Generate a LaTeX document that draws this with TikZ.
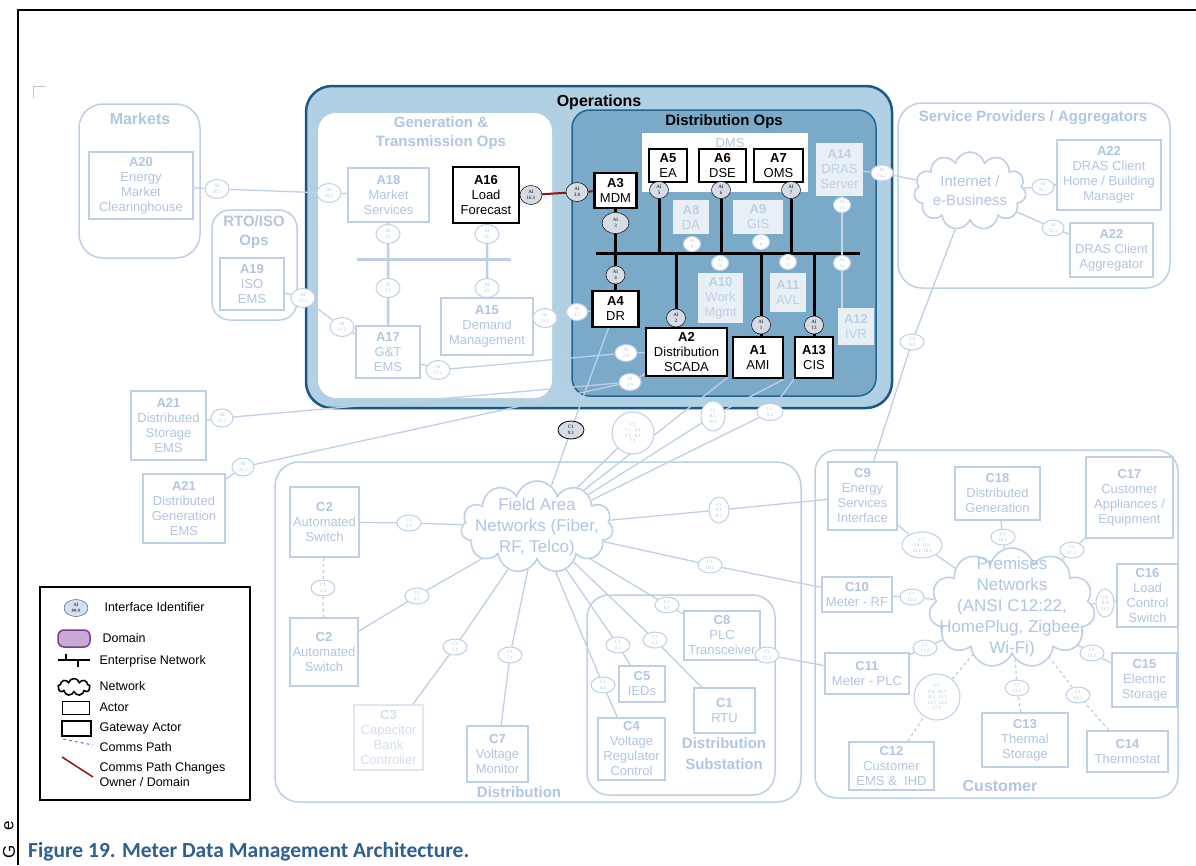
\documentclass[tikz,border=0pt]{standalone}
\usepackage{fontspec}
\setmainfont{Liberation Sans}
\newfontfamily\tnr{Liberation Serif}
\newfontfamily\calib{Carlito}
\usetikzlibrary{shapes.geometric,shapes.symbols}
\definecolor{fade}{RGB}{190,207,232}
\definecolor{fadeT}{RGB}{178,197,228}
\definecolor{opsL}{RGB}{178,208,227}
\definecolor{opsD}{RGB}{27,88,135}
\definecolor{distM}{RGB}{122,170,200}
\definecolor{distD}{RGB}{35,100,145}
\definecolor{aigray}{RGB}{214,220,230}
\definecolor{redl}{RGB}{150,20,20}
\definecolor{capblue}{RGB}{47,94,145}
\definecolor{purp}{RGB}{120,60,140}
\definecolor{purpL}{RGB}{200,170,212}
\definecolor{wfill}{RGB}{232,240,246}
\definecolor{wtext}{RGB}{188,208,230}
\definecolor{wline}{RGB}{200,214,230}
\definecolor{lgfill}{RGB}{212,224,240}
\definecolor{lgdraw}{RGB}{80,90,110}
\definecolor{lgdash}{RGB}{120,135,200}
\newcommand\fz[2]{\fontsize{#1}{#2}\selectfont}
\pgfdeclarelayer{bg}
\pgfdeclarelayer{lns}
\pgfsetlayers{bg,lns,main}
\tikzset{
 actbase/.style={rectangle, align=center, inner sep=0pt, font={\fz{13}{15}}},
 actF/.style={actbase, draw=fade, line width=1.8pt, fill=white, text=fadeT},
 actG/.style={actbase, draw=black, line width=2.2pt, fill=white, text=black},
 actB/.style={actbase, draw=black, line width=1.2pt, fill=white, text=black},
 actW/.style={actbase, fill=wfill, text=wtext},
 ai/.style={ellipse, draw=black, line width=.5pt, fill=aigray, minimum width=22pt, minimum height=19pt, inner sep=0pt, align=center, font={\tnr\fz{5}{5.5}}},
 aif/.style={ai, draw=fade, fill=white, text=fadeT, line width=1pt, minimum width=24pt},
 aic/.style={aif, minimum width=24pt, minimum height=16pt},
 ln/.style={draw=fade, line width=1.3pt},
 dom/.style={draw=fade, line width=1.5pt, rounded corners=24pt},
 ttl/.style={font={\bfseries\fz{15}{19}}, text=fadeT, align=center},
 vb/.style={draw=black, line width=3pt},
 cloudF/.style={cloud, cloud puffs=11, aspect=1.6, draw=fade, line width=1.6pt, fill=white, inner sep=0pt},
 lg/.style={anchor=west, font={\fz{12.5}{15}}, align=left},
}
\begin{document}
\begin{tikzpicture}[x=1pt,y=-1pt]
\useasboundingbox (0,0) rectangle (1196,865);

% ---------- background and domains ----------
\begin{pgfonlayer}{bg}
\fill[white] (0,0) rectangle (1196,865);
\draw[dom] (79,104) rectangle (200,258);
\draw[dom, rounded corners=18pt] (212,210) rectangle (297,320);
\draw[fill=opsL, draw=opsD, line width=2.5pt, rounded corners=26pt] (306,86) rectangle (892,408);
\fill[white, rounded corners=18pt] (318,113) rectangle (552,398);
\draw[fill=distM, draw=distD, line width=1.5pt, rounded corners=18pt] (572,110) rectangle (876,396);
\fill[white] (642,133) rectangle (808,192);
\draw[dom] (898,103) rectangle (1170,288);
\draw[dom] (275,462) rectangle (801,802);
\draw[dom, rounded corners=22pt] (587,595) rectangle (775,795);
\draw[dom, rounded corners=22pt] (815,450) rectangle (1178,798);
\end{pgfonlayer}

% page frame and margin remnants
\draw[black, line width=1.2pt] (18,865) -- (18,10) -- (1196,10);
\draw[gray!45, line width=1pt] (33,98) -- (33,86) -- (46,86);
\node[rotate=90, font={\fz{17}{17}}, inner sep=0pt] (mge) at (9,826) {e};
\node[rotate=90, font={\fz{17}{17}}, inner sep=0pt] (mgg) at (9,852) {G};

% ---------- titles ----------
\node[ttl, font={\bfseries\fz{16}{19}}] (tmk) at (140,119) {Markets};
\node[ttl] (trto) at (254,232) {RTO/ISO\\Ops};
\node[ttl, text=black, font={\bfseries\fz{16}{19}}] (tops) at (599,102) {Operations};
\node[ttl] (tgt) at (441,133) {Generation \&\\Transmission Ops};
\node[ttl, text=black] (tdo) at (724,122) {Distribution Ops};
\node[font={\fz{13}{15}}, text=fadeT] (tdms) at (730,143) {DMS};
\node[ttl] (tsp) at (1033,118) {Service Providers / Aggregators};
\node[ttl] (tdist) at (519,792) {Distribution};
\node[ttl, font={\bfseries\fz{15}{21}}] (tsub) at (724,754) {Distribution\\Substation};
\node[ttl, font={\bfseries\fz{16}{19}}] (tcus) at (1000,786) {Customer};

% ---------- actors: operations ----------
\node[actF, minimum width=104, minimum height=67] (a20) at (141,185.5) {\textbf{A20}\\Energy\\Market\\Clearinghouse};
\node[actF, minimum width=64, minimum height=52] (a19) at (252,284) {\textbf{A19}\\ISO\\EMS};
\node[actF, minimum width=81, minimum height=54] (a18) at (388.5,195) {\textbf{A18}\\Market\\Services};
\node[actG, minimum width=66, minimum height=56] (a16) at (486,195) {\textbf{A16}\\Load\\Forecast};
\node[actF, minimum width=64, minimum height=52] (a17) at (388,352) {\textbf{A17}\\G\&T\\EMS};
\node[actF, minimum width=92, minimum height=57] (a15) at (487,326.5) {\textbf{A15}\\Demand\\Management};

\node[actG, minimum width=42, minimum height=35] (a3) at (615.5,190.5) {\textbf{A3}\\MDM};
\node[actG, minimum width=46, minimum height=36] (a4) at (615.5,309) {\textbf{A4}\\DR};
\node[actB, minimum width=38, minimum height=33] (a5) at (668,165.5) {\textbf{A5}\\EA};
\node[actB, minimum width=47, minimum height=33] (a6) at (722.5,165.5) {\textbf{A6}\\DSE};
\node[actB, minimum width=49, minimum height=33] (a7) at (778.5,165.5) {\textbf{A7}\\OMS};
\node[actG, minimum width=81, minimum height=48] (a2) at (686.5,352) {\textbf{A2}\\Distribution\\SCADA};
\node[actG, minimum width=50, minimum height=41] (a1) at (758,357.5) {\textbf{A1}\\AMI};
\node[actG, minimum width=38, minimum height=41] (a13) at (814,357.5) {\textbf{A13}\\CIS};
\node[actW, minimum width=36, minimum height=34] (a8) at (691,217) {\textbf{A8}\\DA};
\node[actW, minimum width=50, minimum height=34] (a9) at (758,217) {\textbf{A9}\\GIS};
\node[actW, minimum width=45, minimum height=50] (a10) at (720.5,298) {\textbf{A10}\\Work\\Mgmt};
\node[actW, minimum width=36, minimum height=39] (a11) at (788,292.5) {\textbf{A11}\\AVL};
\node[actW, minimum width=36, minimum height=37] (a12) at (856,326.5) {\textbf{A12}\\IVR};
\node[actW, minimum width=47, minimum height=53] (a14) at (839.5,169.5) {\textbf{A14}\\DRAS\\Server};

% service providers
\node[cloudF, minimum width=112, minimum height=78] (inet) at (970,191) {};
\node[font={\fz{15}{19}}, text=fadeT, align=center] (inetT) at (970,191) {Internet /\\e-Business};
\node[actF, minimum width=104, minimum height=70] (a22a) at (1109,175) {\textbf{A22}\\DRAS Client\\Home / Building\\Manager};
\node[actF, minimum width=83, minimum height=54] (a22b) at (1111.5,250) {\textbf{A22}\\DRAS Client\\Aggregator};

% A21
\node[actF, minimum width=75, minimum height=69] (a21s) at (168.5,425.5) {\textbf{A21}\\Distributed\\Storage\\EMS};
\node[actF, minimum width=82, minimum height=69] (a21g) at (184,508.5) {\textbf{A21}\\Distributed\\Generation\\EMS};

% ---------- field ----------
\node[cloudF, minimum width=152, minimum height=92] (fan) at (537,527) {};
\node[font={\fz{17}{21}}, text=fadeT, align=center] (fanT) at (537,527) {Field Area\\Networks (Fiber,\\RF, Telco)};
\node[actF, minimum width=69, minimum height=70] (c2a) at (324.5,522) {\textbf{C2}\\Automated\\Switch};
\node[actF, minimum width=68, minimum height=68] (c2b) at (324,652) {\textbf{C2}\\Automated\\Switch};
\node[actF, draw=fade!50, text=fadeT!55, minimum width=69, minimum height=65] (c3) at (388.5,737.5) {\textbf{C3}\\Capacitor\\Bank\\Controller};
\node[actF, minimum width=61, minimum height=56] (c7) at (497.5,754) {\textbf{C7}\\Voltage\\Monitor};
\node[actF, minimum width=67, minimum height=62] (c4) at (631.5,749) {\textbf{C4}\\Voltage\\Regulator\\Control};
\node[actF, minimum width=46, minimum height=36] (c5) at (642,684) {\textbf{C5}\\IEDs};
\node[actF, minimum width=61, minimum height=45] (c1) at (724.5,710.5) {\textbf{C1}\\RTU};
\node[actF, minimum width=76, minimum height=49] (c8) at (722,635.5) {\textbf{C8}\\PLC\\Transceiver};

% ---------- customer ----------
\node[cloudF, minimum width=166, minimum height=120] (pn) at (1012,608) {};
\node[font={\fz{17}{21}}, text=fadeT, align=center] (pnT) at (1012,607) {Premises\\Networks\\(ANSI C12:22,\\HomePlug, Zigbee,\\Wi-Fi)};
\node[actF, minimum width=69, minimum height=68] (c9) at (862.5,496) {\textbf{C9}\\Energy\\Services\\Interface};
\node[actF, minimum width=85, minimum height=53] (c18) at (997.5,493.5) {\textbf{C18}\\Distributed\\Generation};
\node[actF, minimum width=87, minimum height=81] (c17) at (1129.5,497.5) {\textbf{C17}\\Customer\\Appliances /\\Equipment};
\node[actF, minimum width=61, minimum height=63] (c16) at (1147.5,595.5) {\textbf{C16}\\Load\\Control\\Switch};
\node[actF, minimum width=70, minimum height=35] (c10) at (857,594.5) {\textbf{C10}\\Meter - RF};
\node[actF, minimum width=84, minimum height=41] (c11) at (867,673.5) {\textbf{C11}\\Meter - PLC};
\node[actF, minimum width=65, minimum height=54] (c15) at (1144.5,680) {\textbf{C15}\\Electric\\Storage};
\node[actF, minimum width=85, minimum height=48] (c12) at (891.5,766) {\textbf{C12}\\Customer\\EMS \&\ \ IHD};
\node[actF, minimum width=86, minimum height=54] (c13) at (1025,740) {\textbf{C13}\\Thermal\\Storage};
\node[actF, minimum width=81, minimum height=41] (c14) at (1127.5,751.5) {\textbf{C14}\\Thermostat};

% ---------- interface identifiers ----------
\node[aif] (ai201) at (217,189) {AI\\20.1};
\node[aif] (ai182) at (329,193) {AI\\18.2};
\node[aif] (ai191) at (303,298) {AI\\19.1};
\node[aif] (ai172) at (342,327) {AI\\17.2};
\node[aif] (ai18) at (388,234) {AI\\18};
\node[aif] (ai16) at (487,234) {AI\\16};
\node[aif] (ai17) at (388,288) {AI\\17};
\node[aif] (ai15) at (487,288) {AI\\15};
\node[aif] (ai171) at (438,370) {AI\\17.1};
\node[aif] (ai151) at (545,318) {AI\\15.1};
\node[ai] (ai161) at (531,195) {AI\\16.1};
\node[ai] (ai38) at (577,192) {AI\\3.8};
\node[ai, minimum width=27, minimum height=21] (ai3) at (615.5,223) {AI\\3};
\node[ai, minimum width=19, minimum height=18] (ai4) at (615.5,275) {AI\\4};
\node[ai, minimum width=19, minimum height=17] (ai5) at (659,190) {AI\\5};
\node[ai, minimum width=19, minimum height=17] (ai6) at (721,190) {AI\\6};
\node[ai, minimum width=19, minimum height=17] (ai7) at (791,190) {AI\\7};
\node[ai, minimum width=19, minimum height=18] (ai2) at (676,318) {AI\\2};
\node[ai, minimum width=19, minimum height=18] (ai1) at (761,325) {AI\\1};
\node[ai, minimum width=19, minimum height=18] (ai13) at (814,325) {AI\\13};
\node[aif, minimum width=21, minimum height=17] (ai47) at (577,312) {AI\\4.7};
\node[aif, minimum width=22, minimum height=17] (ai28) at (626,353) {AI\\2.8};
\node[aif, minimum width=22, minimum height=17] (ai29) at (630,382) {AI\\2.9};
\node[aif, draw=wline, text=wtext, minimum width=17, minimum height=15] (ai8) at (692,244) {AI\\8};
\node[aif, draw=wline, text=wtext, minimum width=17, minimum height=15] (ai9) at (761,242) {AI\\9};
\node[aif, draw=wline, text=wtext, minimum width=17, minimum height=15] (ai10) at (720,263) {AI\\10};
\node[aif, draw=wline, text=wtext, minimum width=17, minimum height=15] (ai11) at (788,262) {AI\\11};
\node[aif, draw=wline, text=wtext, minimum width=17, minimum height=15] (ai12) at (842,263) {AI\\12};
\node[aif, draw=wline, text=wtext, minimum width=17, minimum height=15] (ai14) at (842,205) {AI\\14};
\node[aif, minimum width=22, minimum height=16] (ai142) at (882,173) {AI\\14.2};
\node[aif, minimum width=22, minimum height=16] (ai221a) at (1043,187) {AI\\22.1};
\node[aif, minimum width=22, minimum height=16] (ai221b) at (1053,228) {AI\\22.1};
\node[aif, minimum width=22, minimum height=18] (ai211a) at (222,418) {AI\\21.1};
\node[aif, minimum width=22, minimum height=18] (ai211b) at (243,467) {AI\\21.1};
\node[ai, draw=black, line width=.8pt, minimum width=26, minimum height=18] (c91) at (571,430) {C1\\9.1};
\node[aif, minimum width=42, minimum height=42] (cbig) at (633,433) {C1\\1.1\ \ \ 2.1\\3.1\ \ \ 6.1\\7.1};
\node[aif, minimum width=24, minimum height=30] (c81) at (713,416) {C1\\8.1\\10.1};
\node[aif, minimum width=26, minimum height=17] (c92) at (770,412) {C1\\9.2};
\node[aic] (c93) at (912,342) {C1\\9.3};

\node[aic] (e21a) at (409,523) {C1\\2.1};
\node[aic] (e22) at (323,588) {C1\\2.2};
\node[aic] (e21b) at (417,596) {C1\\2.1};
\node[aic] (e31) at (455,647) {C1\\3.1};
\node[aic] (e71) at (510,655) {C1\\7.1};
\node[aic] (e41) at (603,685) {C1\\4.1};
\node[aic] (e51) at (618,645) {C1\\5.1};
\node[aic] (e11) at (655,640) {C1\\1.1};
\node[aic] (e61) at (667,605) {C1\\6.1};
\node[aic, minimum width=20, minimum height=26] (e9x) at (719,510) {C1\\9.1\\8.2};
\node[aic] (e101) at (710,565) {C1\\10.1};
\node[aic] (e111) at (767,655) {C1\\11.1};

\node[aic, minimum width=40, minimum height=26] (p9) at (922,545) {C1\\9.4\ \ 13.1\\10.1\ \ 18.1};
\node[aic] (p18) at (1003,537) {C1\\18.1};
\node[aic] (p17) at (1072,550) {C1\\17.1};
\node[aic, minimum width=18, minimum height=28] (p16) at (1105,603) {C1\\9.4\\12.1};
\node[aic] (p10) at (912,597) {C1\\10.2};
\node[aic] (p11) at (925,648) {C1\\11.2};
\node[aic] (p15) at (1092,653) {C1\\15.1};
\node[aic, minimum width=46, minimum height=46] (p12) at (937,697) {C1\\9.4\ \ 10.2\\11.2\ \ 13.1\\13.1\ \ 14.2\\17.1};
\node[aic] (p13) at (1017,688) {C1\\13.1};
\node[aic] (p14) at (1078,695) {C1\\14.1};

% ---------- connectors ----------
\begin{pgfonlayer}{lns}
\draw[ln] (a20) -- (ai201) -- (ai182) -- (a18);
\draw[ln] (a19) -- (ai191) -- (ai172) -- (a17);
\draw[ln] (a17) -- (ai171) -- (ai28) -- (a2);
\draw[ln] (a15) -- (ai151) -- (ai47) -- (a4);
\draw[redl, line width=2pt] (a16) -- (ai161) -- (ai38) -- (a3);
\draw[ln] (a14) -- (ai142) -- (inet);
\draw[ln] (inet) -- (ai221a) -- (a22a);
\draw[ln] (inet) -- (ai221b) -- (a22b);
\draw[ln] (inet) -- (c93) -- (c9);
\draw[ln] (a21s) -- (ai211a) -- (ai29);
\draw[ln] (a21g) -- (ai211b) -- (ai29);
\draw[ln] (ai29) -- (a2);
\draw[ln] (a4) -- (c91) -- (fan);
\draw[ln] (a2.south east) -- (fan);
\draw[ln] (cbig) -- (fan);
\draw[ln] (a1.south east) -- (c81) -- (fan);
\draw[ln] (a13.south west) -- (c92) -- (fan);
% G&T enterprise bus
\coordinate (gbL) at (357,259);
\coordinate (gbR) at (511,259);
\draw[fade, line width=3pt] (gbL) -- (gbR);
\draw[fade, line width=2.5pt] (a18) -- (ai18) -- (ai17) -- (a17);
\draw[fade, line width=2.5pt] (a16) -- (ai16) -- (ai15) -- (a15);
% Distribution Ops enterprise bus
\coordinate (dbL) at (596,253);
\coordinate (dbR) at (860,253);
\draw[vb] (dbL) -- (dbR);
\draw[vb] (a3) -- (ai3) -- (ai4) -- (a4);
\draw[vb] (ai5) -- (ai5 |- dbL);
\draw[vb] (ai6) -- (ai6 |- dbL);
\draw[vb] (ai7) -- (ai7 |- dbL);
\draw[vb] (ai2 |- dbL) -- (ai2) -- (ai2 |- a2.north);
\draw[vb] (ai1 |- dbL) -- (ai1) -- (ai1 |- a1.north);
\draw[vb] (ai13 |- dbL) -- (ai13) -- (ai13 |- a13.north);
\draw[wline, line width=2pt] (ai14 |- a14.south) -- (ai14) -- (ai12) -- (ai12 |- a12.north);
% field area
\draw[ln] (c2a) -- (e21a) -- (fan);
\draw[ln, dashed] (c2a) -- (e22) -- (c2b);
\draw[ln] (c2b) -- (e21b) -- (fan);
\draw[ln] (c3) -- (e31) -- (fan);
\draw[ln] (c7) -- (e71) -- (fan);
\draw[ln] (c4) -- (e41) -- (fan);
\draw[ln] (c5) -- (e51) -- (fan);
\draw[ln] (c1) -- (e11) -- (fan);
\draw[ln] (c8) -- (e61) -- (fan);
\draw[ln] (c9) -- (e9x) -- (fan);
\draw[ln] (c10) -- (e101) -- (fan);
\draw[ln] (c8) -- (e111) -- (c11);
% premises
\draw[ln] (c9) -- (p9) -- (pn);
\draw[ln] (c18) -- (p18) -- (pn);
\draw[ln] (c17) -- (p17) -- (pn);
\draw[ln] (c16) -- (p16) -- (pn);
\draw[ln] (c10) -- (p10) -- (pn);
\draw[ln] (c11) -- (p11) -- (pn);
\draw[ln] (c15) -- (p15) -- (pn);
\draw[ln, dashed] (c12) -- (p12) -- (pn);
\draw[ln, dashed] (c13) -- (p13) -- (pn);
\draw[ln, dashed] (c14) -- (p14) -- (pn);
\end{pgfonlayer}

% ---------- legend ----------
\node[draw=black, line width=1.5pt, fill=white, minimum width=210, minimum height=213, inner sep=0pt] (leg) at (145,693.5) {};
\node[ai, fill=lgfill, draw=lgdraw, minimum width=24, minimum height=17] (lgai) at (76,608) {AI\\\#\#.\#};
\node[lg] (lgait) at (101,607) {Interface Identifier};
\draw[fill=purpL, draw=purp, line width=1.5pt, rounded corners=6pt] (58,630) rectangle (90,647);
\node[lg] (lgdom) at (99,638) {Domain};
\coordinate (lgeL) at (58,660);
\coordinate (lgeR) at (90,660);
\draw[black, line width=1.2pt] (lgeL) -- (lgeR) (66,654) -- (66,660) (78,660) -- (78,667);
\node[lg] (lgent) at (96,661) {Enterprise Network};
\node[cloud, cloud puffs=9, aspect=2, draw=black, line width=1.6pt, minimum width=32, minimum height=17, inner sep=0pt] (lgnet) at (74,687) {};
\node[lg] (lgnett) at (96,686) {Network};
\node[draw=black, line width=.8pt, minimum width=27, minimum height=13, inner sep=0pt] (lgact) at (75.5,707.5) {};
\node[lg] (lgactt) at (96,707) {Actor};
\node[draw=black, line width=2.2pt, minimum width=29, minimum height=15, inner sep=0pt] (lggw) at (76.5,728.5) {};
\node[lg] (lggwt) at (96,728) {Gateway Actor};
\coordinate (lgc1) at (63,739);
\coordinate (lgc2) at (93,745);
\draw[lgdash, line width=1.2pt, dashed] (lgc1) -- (lgc2);
\node[lg] (lgcp) at (96,747) {Comms Path};
\coordinate (lgr1) at (62,757);
\coordinate (lgr2) at (93,777);
\draw[redl, line width=1.5pt] (lgr1) -- (lgr2);
\node[lg] (lgcc) at (96,775) {Comms Path Changes\\Owner / Domain};

% ---------- caption ----------
\node[anchor=west, font={\calib\bfseries\fz{21.5}{24}}, text=capblue, inner sep=0pt] (cap) at (28,852) {Figure 19. Meter Data Management Architecture.};
\end{tikzpicture}
\end{document}
